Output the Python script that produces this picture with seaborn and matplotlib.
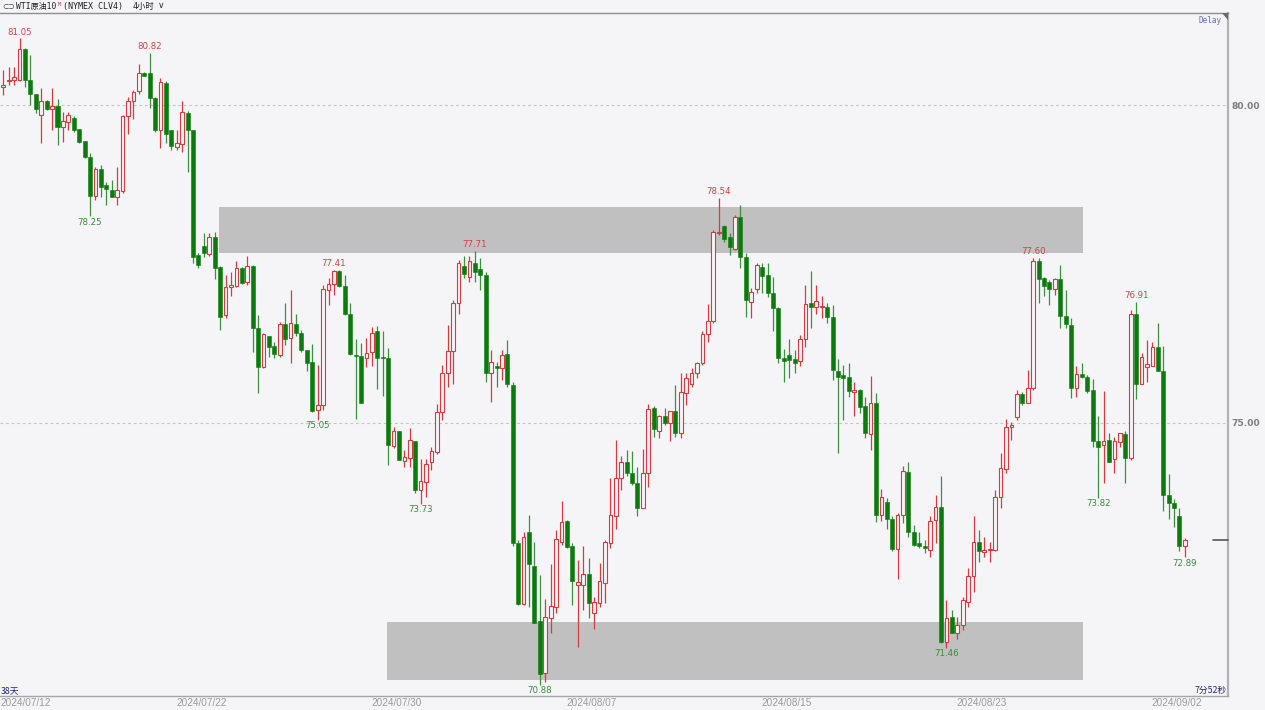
import matplotlib
matplotlib.use("Agg")
import matplotlib.pyplot as plt
import matplotlib.transforms as mtransforms
from matplotlib.patches import Rectangle, Polygon
import numpy as np
import pandas as pd
import seaborn as sns

# WTI crude (NYMEX CLV4), 4-hour bars, 2024/07/12 - 2024/09/02
opens = [
    80.28, 80.37, 80.40, 80.40, 80.88, 80.39, 80.17, 79.84, 80.07, 79.93,
    79.99, 79.66, 79.73, 79.80, 79.62, 79.43, 79.19, 78.57, 78.99, 78.74,
    78.66, 78.56, 78.64, 79.83, 80.06, 80.22, 80.50, 80.50, 80.11, 79.61,
    80.34, 79.60, 79.34, 79.38, 79.87, 79.60, 77.64, 77.78, 77.66, 77.92,
    77.45, 76.70, 77.14, 77.15, 77.43, 77.21, 77.47, 76.50, 75.88, 76.36,
    76.21, 76.07, 76.55, 76.33, 76.56, 76.42, 76.14, 75.96, 75.20, 75.28,
    77.09, 77.18, 77.39, 77.16, 76.71, 76.07, 76.05, 76.02, 76.11, 76.44,
    76.03, 76.02, 74.64, 74.88, 74.41, 74.45, 74.72, 73.94, 74.07, 74.38,
    74.55, 75.18, 75.78, 76.13, 76.88, 77.47, 77.30, 77.51, 77.42, 77.33,
    75.78, 75.90, 75.86, 76.08, 75.60, 73.12, 72.16, 73.28, 72.75, 71.88,
    71.07, 71.94, 72.11, 73.13, 73.46, 73.06, 72.46, 72.45, 72.62, 72.01,
    72.17, 72.49, 73.11, 73.54, 74.13, 74.38, 74.22, 74.05, 73.67, 74.22,
    75.23, 74.87, 75.11, 75.00, 75.19, 74.84, 75.47, 75.62, 75.78, 75.94,
    76.40, 76.61, 77.98, 78.10, 77.92, 77.74, 78.24, 77.61, 76.91, 77.10,
    77.46, 77.33, 77.05, 76.81, 76.02, 76.07, 76.00, 75.97, 76.32, 76.89,
    76.83, 76.82, 76.83, 76.67, 75.82, 75.75, 75.73, 75.48, 75.52, 75.26,
    74.82, 75.32, 73.55, 73.75, 73.49, 73.02, 73.55, 74.23, 73.28, 73.12,
    73.07, 73.00, 73.47, 73.68, 71.56, 71.95, 71.70, 71.82, 72.19, 72.59,
    73.13, 72.97, 73.00, 73.00, 73.84, 74.27, 74.94, 75.10, 75.46, 75.31,
    75.55, 77.55, 77.28, 77.21, 77.10, 77.26, 76.68, 76.54, 75.55, 75.77,
    75.73, 75.52, 74.71, 74.65, 74.73, 74.43, 74.70, 74.83, 74.45, 76.72,
    75.62, 75.88, 75.90, 76.19, 75.82, 73.87, 73.74, 73.54, 73.07,
]
highs = [
    80.55, 80.60, 80.59, 81.05, 80.90, 80.79, 80.18, 80.26, 80.08, 80.27,
    80.09, 79.89, 79.89, 79.82, 79.63, 79.44, 79.25, 79.03, 79.06, 78.79,
    78.82, 79.03, 79.84, 80.13, 80.24, 80.64, 80.52, 80.82, 80.13, 80.42,
    80.37, 79.61, 79.61, 80.07, 79.91, 79.61, 77.67, 77.99, 77.99, 78.00,
    77.47, 77.33, 77.38, 77.54, 77.46, 77.63, 77.48, 76.70, 76.42, 76.36,
    76.28, 76.59, 76.89, 77.09, 76.72, 76.46, 76.14, 76.24, 75.91, 77.17,
    77.28, 77.41, 77.41, 77.33, 76.88, 76.32, 76.25, 76.33, 76.51, 76.53,
    76.45, 76.18, 74.94, 74.88, 74.58, 74.92, 74.72, 74.44, 74.44, 74.63,
    75.30, 75.91, 76.54, 76.93, 77.56, 77.63, 77.63, 77.71, 77.59, 77.38,
    76.15, 75.96, 76.15, 76.30, 75.65, 73.16, 73.28, 73.55, 73.13, 72.61,
    72.24, 72.78, 73.32, 73.78, 73.47, 73.11, 72.85, 73.06, 72.87, 72.27,
    72.80, 73.16, 74.13, 74.73, 74.48, 74.58, 74.56, 74.31, 74.59, 75.30,
    75.26, 75.13, 75.23, 75.19, 75.59, 75.79, 75.79, 75.86, 75.96, 76.44,
    76.87, 78.03, 78.54, 78.11, 77.98, 78.27, 78.43, 77.67, 77.12, 77.51,
    77.51, 77.51, 77.30, 76.83, 76.16, 76.32, 76.15, 76.38, 77.17, 77.39,
    77.17, 76.99, 76.88, 76.86, 76.00, 75.91, 75.94, 75.65, 75.53, 75.41,
    75.74, 75.47, 73.96, 73.82, 73.53, 73.58, 74.32, 74.39, 73.40, 73.29,
    73.16, 73.53, 73.87, 74.16, 72.22, 72.06, 71.95, 72.27, 72.72, 73.54,
    73.31, 73.20, 73.13, 73.95, 74.53, 75.07, 75.02, 75.52, 75.48, 75.83,
    77.60, 77.59, 77.30, 77.25, 77.28, 77.48, 77.09, 76.65, 75.89, 75.95,
    75.75, 75.69, 75.11, 75.51, 74.85, 74.78, 74.85, 74.88, 76.78, 76.91,
    76.10, 76.30, 76.28, 76.57, 76.21, 74.20, 73.80, 73.66, 73.19,
]
lows = [
    80.16, 80.31, 80.31, 80.38, 80.28, 80.00, 79.87, 79.40, 79.92, 79.61,
    79.37, 79.42, 79.61, 79.58, 79.40, 79.16, 78.25, 78.50, 78.56, 78.42,
    78.55, 78.42, 78.61, 79.55, 79.78, 80.17, 80.45, 79.95, 79.58, 79.32,
    79.40, 79.30, 79.30, 79.26, 78.95, 77.52, 77.43, 77.61, 77.63, 77.26,
    76.46, 76.65, 76.99, 77.14, 77.19, 77.17, 76.12, 75.47, 75.86, 76.04,
    76.02, 76.04, 76.23, 75.94, 76.36, 76.12, 75.81, 75.18, 75.05, 75.20,
    76.86, 77.01, 77.14, 76.70, 76.07, 75.07, 75.31, 75.88, 75.89, 75.53,
    75.42, 74.34, 74.60, 74.42, 74.31, 74.31, 73.90, 73.73, 73.84, 74.26,
    74.52, 75.05, 75.57, 75.62, 76.72, 77.28, 77.21, 77.21, 77.09, 75.65,
    75.33, 75.57, 75.68, 75.57, 73.06, 72.14, 72.14, 72.11, 71.86, 70.88,
    70.93, 71.70, 72.02, 73.08, 73.03, 72.14, 71.47, 72.06, 71.94, 71.76,
    72.10, 72.17, 73.03, 73.33, 73.95, 74.17, 74.03, 73.54, 73.66, 74.00,
    74.78, 74.76, 74.97, 74.71, 74.78, 74.76, 75.28, 75.57, 75.71, 75.91,
    76.28, 76.57, 77.96, 77.85, 77.64, 77.72, 77.43, 76.67, 76.65, 77.04,
    77.04, 76.98, 76.44, 75.94, 75.65, 75.70, 75.78, 75.90, 76.20, 76.49,
    76.71, 76.65, 76.57, 75.68, 74.53, 75.05, 75.41, 75.11, 75.15, 74.77,
    74.58, 73.45, 73.46, 73.33, 72.98, 72.54, 73.42, 73.21, 73.06, 73.03,
    72.95, 72.90, 73.11, 71.54, 71.46, 71.69, 71.61, 71.75, 72.11, 72.35,
    72.82, 72.90, 72.82, 72.98, 73.66, 74.21, 74.73, 75.05, 75.28, 75.31,
    75.52, 76.88, 77.00, 76.86, 77.01, 76.50, 76.50, 75.39, 75.41, 75.70,
    75.47, 74.63, 73.82, 74.05, 74.38, 74.22, 74.62, 74.05, 74.42, 75.37,
    75.61, 75.65, 75.89, 75.81, 73.61, 73.49, 73.37, 72.98, 72.89,
]
closes = [
    80.31, 80.40, 80.44, 80.88, 80.40, 80.17, 79.93, 80.06, 79.93, 79.99,
    79.66, 79.75, 79.84, 79.60, 79.42, 79.19, 78.57, 78.99, 78.71, 78.68,
    78.56, 78.66, 79.83, 80.07, 80.21, 80.50, 80.46, 80.11, 79.60, 80.36,
    79.54, 79.36, 79.40, 79.89, 79.61, 77.61, 77.48, 77.67, 77.92, 77.43,
    76.66, 77.14, 77.17, 77.43, 77.20, 77.47, 76.50, 75.88, 76.40, 76.19,
    76.08, 76.56, 76.32, 76.57, 76.42, 76.14, 75.95, 75.19, 75.28, 77.10,
    77.18, 77.39, 77.16, 76.71, 76.08, 76.05, 75.32, 76.10, 76.42, 76.02,
    76.02, 74.65, 74.88, 74.42, 74.46, 74.73, 73.94, 74.08, 74.36, 74.56,
    75.18, 75.78, 76.13, 76.88, 77.52, 77.34, 77.54, 77.38, 77.33, 75.78,
    75.96, 75.86, 76.07, 75.61, 73.12, 72.15, 73.20, 72.78, 71.86, 71.06,
    71.95, 72.13, 73.17, 73.45, 73.05, 72.52, 72.50, 72.62, 72.17, 72.18,
    72.52, 73.13, 73.55, 74.13, 74.38, 74.22, 74.05, 73.66, 74.22, 75.22,
    74.90, 75.11, 75.00, 75.19, 74.84, 75.48, 75.70, 75.79, 75.94, 76.40,
    76.61, 78.01, 78.01, 77.90, 77.77, 78.24, 77.61, 76.93, 77.06, 77.48,
    77.31, 77.05, 76.81, 76.02, 75.97, 75.99, 75.95, 76.32, 76.87, 76.83,
    76.92, 76.83, 76.67, 75.83, 75.73, 75.71, 75.50, 75.52, 75.25, 74.84,
    75.32, 73.55, 73.83, 73.49, 73.02, 73.55, 74.25, 73.28, 73.08, 73.06,
    73.03, 73.46, 73.68, 71.56, 71.93, 71.70, 71.82, 72.22, 72.59, 73.13,
    72.99, 73.01, 73.02, 73.84, 74.29, 74.94, 74.97, 75.46, 75.31, 75.55,
    77.55, 77.26, 77.15, 77.10, 77.26, 76.68, 76.56, 75.55, 75.77, 75.73,
    75.51, 74.71, 74.63, 74.72, 74.39, 74.71, 74.84, 74.45, 76.72, 75.62,
    76.03, 75.92, 76.20, 75.82, 73.87, 73.74, 73.66, 73.07, 73.16,
]

# session start labels on the time axis (bar positions)
date_labels = ["2024/07/12", "2024/07/22", "2024/07/30", "2024/08/07",
               "2024/08/15", "2024/08/23", "2024/09/02"]
date_pos = [-0.6, 36.5, 72.5, 108.5, 144.5, 180.5, 216.5]

price_ticks = [75.0, 80.0]

# bars whose extreme price is labelled
peak_bars = [3, 27, 61, 87, 132, 190, 209]
trough_bars = [16, 58, 77, 99, 174, 202, 218]

# shaded price bands (bar span, price span)
upper_band_bars = [39.8, 199.2]
upper_band_prices = [77.67, 78.40]
lower_band_bars = [70.8, 199.2]
lower_band_prices = [70.96, 71.87]

BG = "#f5f5f8"
UP = "#d63c3c"
DOWN = "#0b7b0b"
DOWN_WICK = "#3c8f3c"
UP_LABEL = "#cc4444"
DOWN_LABEL = "#3a8a3a"
BAND = "#c0c0c0"

sns.set_theme(style="white", rc={
    "axes.facecolor": BG,
    "figure.facecolor": BG,
    "savefig.facecolor": BG,
})
plt.rcParams["font.family"] = ["DejaVu Sans", "Noto Sans CJK SC"]

W, H = 1265, 710


def fpos(x, y):
    return x / W, 1 - y / H


fig = plt.figure(figsize=(W / 100, H / 100), dpi=100)
ax_left, ax_top = 0.0, 13.3
ax_right, ax_bottom = 1228.3, 695.5
ax = fig.add_axes([ax_left / W, 1 - ax_bottom / H,
                   (ax_right - ax_left) / W, (ax_bottom - ax_top) / H])

df = pd.DataFrame({"open": opens, "high": highs, "low": lows, "close": closes})
df["bar"] = np.arange(len(df))
df["up"] = df["close"] >= df["open"]

# shaded bands
for bars, prices in [(upper_band_bars, upper_band_prices),
                     (lower_band_bars, lower_band_prices)]:
    ax.add_patch(Rectangle((bars[0], prices[0]), bars[1] - bars[0],
                           prices[1] - prices[0], facecolor=BAND,
                           edgecolor="none", zorder=1))

# dashed price grid
for v in price_ticks:
    ax.axhline(v, color="#c6c6c6", lw=0.8, ls=(0, (2.5, 2.5)), zorder=0.5)

# wicks
wick_colors = np.where(df["up"], UP, DOWN_WICK)
ax.vlines(df["bar"], df["low"], df["high"], colors=wick_colors, lw=0.9, zorder=2)

# bodies
body_bottom = np.minimum(df["open"], df["close"])
body_height = np.maximum((df["close"] - df["open"]).abs(), 0.014)
up = df["up"].to_numpy()
ax.bar(df["bar"][up], body_height[up], bottom=body_bottom[up], width=0.68,
       facecolor=BG, edgecolor=UP, linewidth=0.8, zorder=3)
ax.bar(df["bar"][~up], body_height[~up], bottom=body_bottom[~up], width=0.74,
       facecolor=DOWN, edgecolor=DOWN, linewidth=0.4, zorder=3)

# extreme labels
for i in peak_bars:
    ax.annotate(f"{highs[i]:.2f}", (i, highs[i]), xytext=(0, 4.4),
                textcoords="offset points", ha="center", va="center",
                color=UP_LABEL, fontsize=6.2, zorder=5)
for i in trough_bars:
    ax.annotate(f"{lows[i]:.2f}", (i, lows[i]), xytext=(0, -4.2),
                textcoords="offset points", ha="center", va="center",
                color=DOWN_LABEL, fontsize=6.2, zorder=5)

# last price marker on the price axis
mark = mtransforms.blended_transform_factory(ax.transAxes, ax.transData)
ax.plot([(1213 - ax_left) / (ax_right - ax_left), 1.0], [closes[-1]] * 2,
        color="#555555", lw=1.2, transform=mark, clip_on=False, zorder=6)

ax.set_xlim(-0.609, 226.01)
ax.set_ylim(70.715, 81.442)

# price axis on the right
ax.yaxis.tick_right()
ax.set_yticks(price_ticks)
ax.set_yticklabels([f"{v:.2f}" for v in price_ticks])
ax.tick_params(axis="y", length=0, pad=2, labelsize=6.6, labelcolor="#7e7e7e")
for lbl in ax.get_yticklabels():
    lbl.set_fontweight("semibold")

# time axis
ax.set_xticks(date_pos)
ax.set_xticklabels(date_labels)
ax.tick_params(axis="x", direction="in", length=5.5, width=0.8, color="#8c8c8c",
               pad=1.8, labelsize=7.2, labelcolor="#9a9a9a")
for lbl in ax.get_xticklabels():
    lbl.set_fontfamily(["Liberation Sans", "DejaVu Sans"])
ax.get_xticklabels()[0].set_horizontalalignment("left")
for t in ax.xaxis.get_major_ticks()[:-1]:
    t.tick1line.set_visible(False)

for side, col, lw in [("top", "#8e8e8e", 1.0), ("right", "#b2b2b2", 1.6),
                      ("bottom", "#a6a6a6", 1.0)]:
    ax.spines[side].set_color(col)
    ax.spines[side].set_linewidth(lw)
ax.spines["left"].set_visible(False)

# corner marker at top right of the plot
fig.patches.append(Polygon([fpos(1221.7, 13.3), fpos(1228.3, 13.3), fpos(1228.3, 20)],
                           closed=True, transform=fig.transFigure,
                           facecolor="#6a6a6a", edgecolor="none"))

# header
mono_cjk = ["DejaVu Sans Mono", "Noto Sans CJK SC"]
fig.text(*fpos(2, 6.5), "⊂⊃", fontsize=5.5, color="#404040", va="center", ha="left")
fig.text(*fpos(16, 6.5), "WTI原油10", fontsize=5.8, color="#202020", va="center",
         ha="left", family=mono_cjk)
fig.text(*fpos(58, 4.0), "M", fontsize=3.6, color="#d04040", va="center", ha="left",
         family=mono_cjk)
fig.text(*fpos(63, 6.5), "(NYMEX CLV4)", fontsize=6.0, color="#202020", va="center",
         ha="left", family=mono_cjk)
fig.text(*fpos(133, 6.5), "4小时", fontsize=6.0, color="#202020", va="center",
         ha="left", family=mono_cjk)
fig.text(*fpos(158, 6.0), "∨", fontsize=6.5, color="#303030", va="center", ha="left")

fig.text(*fpos(1221.5, 20.5), "Delay", fontsize=5.5, color="#5a6fa6", va="center",
         ha="right", family="DejaVu Sans Mono")

fig.text(*fpos(0.5, 690.5), "38天", fontsize=6.3, color="#25257a", va="center",
         ha="left", family=["Noto Sans CJK SC", "DejaVu Sans"])
fig.text(*fpos(1226.5, 690), "7分52秒", fontsize=6.3, color="#25257a", va="center",
         ha="right", family=["Noto Sans CJK SC", "DejaVu Sans"])

fig.savefig("out.png", dpi=100, facecolor=BG)
